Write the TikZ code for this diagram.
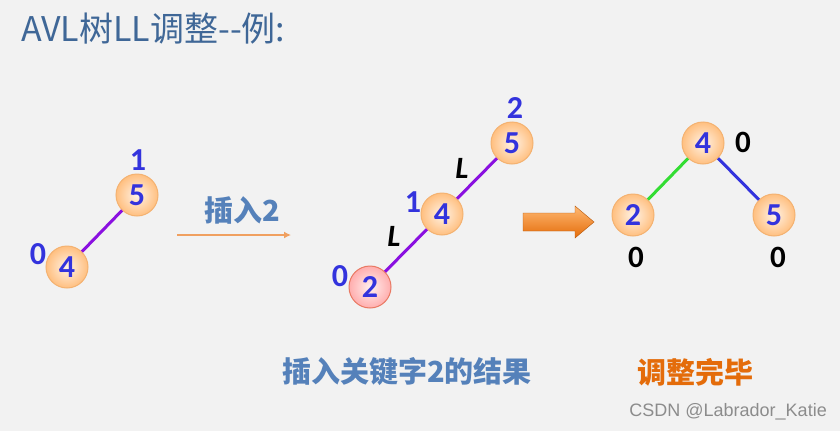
\documentclass[tikz,border=0pt]{standalone}
\usepackage{fontspec}
\usetikzlibrary{arrows.meta}
\setmainfont{Carlito}[BoldFont={Carlito Bold},ItalicFont={Carlito Italic},BoldItalicFont={Carlito Bold Italic}]
\newfontfamily\cjk{Noto Sans CJK SC}
\newfontfamily\wm{Liberation Sans}
\definecolor{bg}{HTML}{F2F2F2}
\definecolor{titleblue}{HTML}{3F6797}
\definecolor{txtblue}{HTML}{5581BA}
\definecolor{numblue}{HTML}{3333DD}
\definecolor{purp}{HTML}{8A10E0}
\definecolor{grn}{HTML}{33DD33}
\definecolor{orng}{HTML}{E46C0A}
\definecolor{thinor}{HTML}{F0A060}
\begin{document}
\begin{tikzpicture}[x=1pt,y=-1pt,
  tnode/.style={circle,minimum size=42pt,inner sep=0pt,draw=orange!70!brown!60,line width=1pt,
     shading=radial,inner color=orange!10,outer color=orange!50,
     font=\fontsize{32}{32}\selectfont\bfseries,text=numblue},
  pnode/.style={tnode,draw=red!50!brown!70,inner color=red!6,outer color=red!32},
  bal/.style={font=\fontsize{32}{32}\selectfont\bfseries,text=numblue,inner sep=0pt},
  balk/.style={font=\fontsize{31}{31}\selectfont\bfseries,text=black,inner sep=0pt},
  ll/.style={font=\fontsize{31}{31}\selectfont\bfseries\itshape,text=black,inner sep=0pt},
  edge/.style={line width=3pt,purp},
  cjkb/.style={font=\cjk\fontsize{29}{29}\selectfont\bfseries,inner sep=0pt}]
\fill[bg] (0,0) rectangle (840,431);
\useasboundingbox (0,0) rectangle (840,431);
% title
\node[anchor=west,inner sep=0pt,text=titleblue,font=\cjk\fontsize{34}{34}\selectfont] (title) at (21,29) {AVL树LL调整--例:};
% left tree
\node[tnode] (a5) at (137,195) {5};
\node[tnode] (a4) at (67,267) {4};
\draw[edge] (a5) -- (a4);
\node[bal] (ab5) at (138,160) {1};
\node[bal] (ab4) at (38,254) {0};
% insert arrow
\node[cjkb,text=txtblue] (ins) at (242,210) {插入2};
\coordinate (ia) at (177,235);
\coordinate (ib) at (291,235);
\draw[thinor,line width=2.6pt,-{Latex[length=7pt,width=7pt]}] (ia) -- (ib);
% middle tree
\node[tnode] (b5) at (512,143) {5};
\node[tnode] (b4) at (442,214) {4};
\node[pnode] (b2) at (370,287) {2};
\draw[edge] (b5) -- (b4);
\draw[edge] (b4) -- (b2);
\node[bal] (bb5) at (515,108) {2};
\node[bal] (bb4) at (413,202) {1};
\node[bal] (bb2) at (340,276) {0};
\node[ll] (l1) at (462,168) {L};
\node[ll] (l2) at (394,236) {L};
% block arrow
\shade[top color=orange!55,bottom color=orng,draw=orng!80!black,line width=0.4pt]
  (523,213) -- (575,213) -- (575,206) -- (594,222) -- (575,238) -- (575,231) -- (523,231) -- cycle;
% right tree
\node[tnode] (c4) at (703,143) {4};
\node[tnode] (c2) at (633,215) {2};
\node[tnode] (c5) at (774,215) {5};
\draw[line width=3pt,grn] (c4) -- (c2);
\draw[line width=3pt,numblue] (c4) -- (c5);
\node[balk] (cb4) at (743,142) {0};
\node[balk] (cb2) at (636,257) {0};
\node[balk] (cb5) at (778,257) {0};
% captions
\node[cjkb,text=txtblue] (cap1) at (407,372) {插入关键字2的结果};
\node[cjkb,text=orng] (cap2) at (695,372) {调整完毕};
\node[anchor=east,inner sep=0pt,text=black!45,font=\wm\fontsize{18}{18}\selectfont] (wm) at (827,412) {CSDN @Labrador\_Katie};
\end{tikzpicture}
\end{document}
